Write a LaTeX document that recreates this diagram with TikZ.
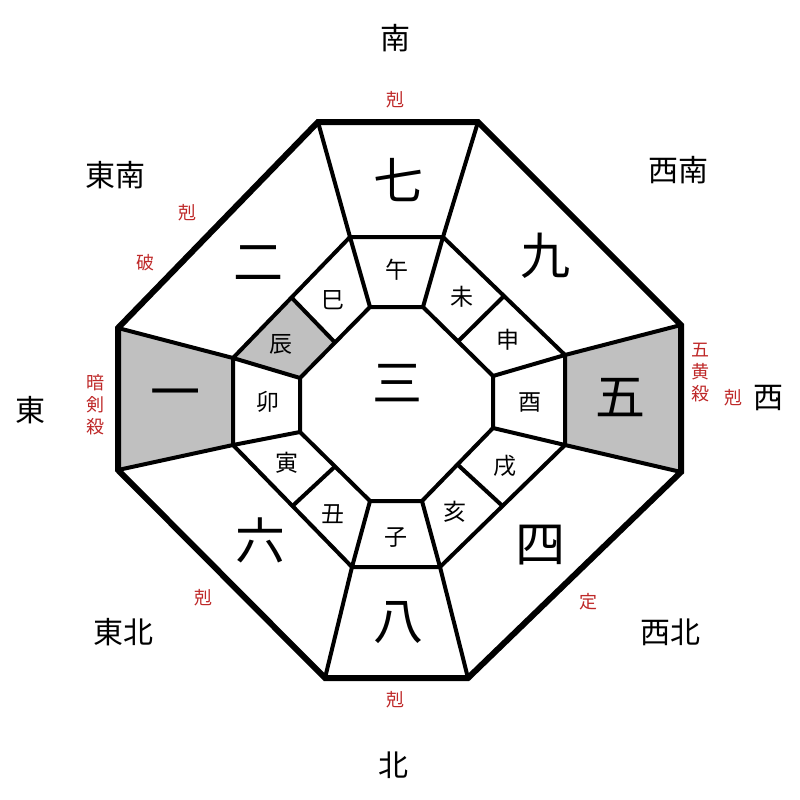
\documentclass[tikz,border=0pt]{standalone}
\usepackage{fontspec}
\newfontfamily\jp{Noto Sans CJK JP}
\usetikzlibrary{positioning,calc}
\definecolor{kred}{RGB}{190,40,40}
\definecolor{cellgray}{RGB}{192,192,192}

\begin{document}
\begin{tikzpicture}[x=1pt,y=-1pt,line join=miter]
  \tikzset{
    big/.style={font=\jp\fontsize{50}{50}\selectfont},
    small/.style={font=\jp\fontsize{23}{23}\selectfont},
    dir/.style={font=\jp\fontsize{30}{30}\selectfont},
    kr/.style={font=\jp\fontsize{18}{22}\selectfont,text=kred,align=center},
    ring/.style={line width=4pt}
  }
  \useasboundingbox (0,0) rectangle (800,800);

  % outer, middle and inner octagons
  \coordinate (a1) at (318,122); \coordinate (a2) at (478,122);
  \coordinate (a3) at (681,325); \coordinate (a4) at (681,472);
  \coordinate (a5) at (468,678); \coordinate (a6) at (325,678);
  \coordinate (a7) at (118,470); \coordinate (a8) at (118,328);
  \coordinate (m1) at (350,237); \coordinate (m2) at (443,237);
  \coordinate (m3) at (565,355); \coordinate (m4) at (565,445);
  \coordinate (m5) at (440,567); \coordinate (m6) at (352,567);
  \coordinate (m7) at (233,445); \coordinate (m8) at (233,358);
  \coordinate (i1) at (370,307); \coordinate (i2) at (423,307);
  \coordinate (i3) at (493,376); \coordinate (i4) at (493,428);
  \coordinate (i5) at (422,501); \coordinate (i6) at (370,501);
  \coordinate (i7) at (300,432); \coordinate (i8) at (300,378);

  % shaded cells
  \fill[cellgray] (a7) -- (a8) -- (m8) -- (m7) -- cycle;
  \fill[cellgray] (a3) -- (a4) -- (m4) -- (m3) -- cycle;
  \fill[cellgray] (m8) -- ($(m8)!.5!(m1)$) -- ($(i8)!.5!(i1)$) -- (i8) -- cycle;

  \draw[line width=6pt] (a1) -- (a2) -- (a3) -- (a4) -- (a5) -- (a6) -- (a7) -- (a8) -- cycle;
  \draw[ring] (m1) -- (m2) -- (m3) -- (m4) -- (m5) -- (m6) -- (m7) -- (m8) -- cycle;
  \draw[ring] (i1) -- (i2) -- (i3) -- (i4) -- (i5) -- (i6) -- (i7) -- (i8) -- cycle;
  \foreach \k in {1,...,8}{
    \draw[ring] (a\k) -- (m\k);
    \draw[ring] (m\k) -- (i\k);
  }
  \foreach \p/\q in {8/1,2/3,4/5,6/7}{
    \draw[ring] ($(m\p)!.5!(m\q)$) -- ($(i\p)!.5!(i\q)$);
  }

  % stars
  \node[big] (seven) at (398,180) {七};
  \node[big] (two) at (258,263) {二};
  \node[big] (nine) at (545,256) {九};
  \node[big] (one) at (175,400) {一};
  \node[big] (three) at (397,383) {三};
  \node[big] (five) at (620,398) {五};
  \node[big] (six) at (260,540) {六};
  \node[big] (four) at (540,545) {四};
  \node[big] (eight) at (398,623) {八};

  % branches
  \node[small] (uma) at (397,270) {午};
  \node[small] (mi) at (333,300) {巳};
  \node[small] (hitsuji) at (462,297) {未};
  \node[small] (saru) at (508,340) {申};
  \node[small] (tatsu) at (281,344) {辰};
  \node[small] (u) at (268,402) {卯};
  \node[small] (tori) at (530,402) {酉};
  \node[small] (tora) at (287,463) {寅};
  \node[small] (inu) at (505,466) {戌};
  \node[small] (ushi) at (333,514) {丑};
  \node[small] (i) at (455,512) {亥};
  \node[small] (ne) at (396,538) {子};

  % directions
  \node[dir] (south) at (395,38) {南};
  \node[dir] (southeast) at (115,175) {東南};
  \node[dir] (southwest) at (678,170) {西南};
  \node[dir] (east) at (30,410) {東};
  \node[dir] (west) at (768,398) {西};
  \node[dir] (northeast) at (123,632) {東北};
  \node[dir] (northwest) at (670,632) {西北};
  \node[dir] (north) at (393,765) {北};

  % marks
  \node[kr] (kokuS) at (395,100) {剋};
  \node[kr] (kokuSE) at (187,213) {剋};
  \node[kr] (ha) at (145,263) {破};
  \node[kr] (anken) at (95,405) {暗\\剣\\殺};
  \node[kr] (goo) at (700,373) {五\\黄\\殺};
  \node[kr] (kokuW) at (733,398) {剋};
  \node[kr] (kokuNE) at (203,598) {剋};
  \node[kr] (tei) at (588,602) {定};
  \node[kr] (kokuN) at (395,700) {剋};
\end{tikzpicture}
\end{document}
